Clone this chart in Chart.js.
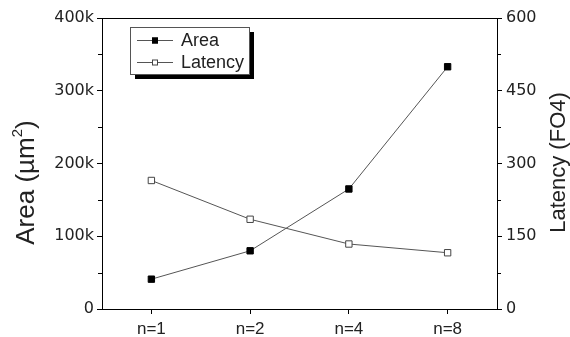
<!DOCTYPE html>
<html>
<head>
<meta charset="utf-8">
<script src="https://cdn.jsdelivr.net/npm/chart.js@4.4.1/dist/chart.umd.min.js"></script>
<style>
  body { margin: 0; background: #fff; }
  #wrap { width: 570px; height: 337px; position: relative; }
</style>
</head>
<body>
<div id="wrap"><canvas id="chart"></canvas></div>
<script>
// data
const categories = ["n=1", "n=2", "n=4", "n=8"];
const areaValues = [41000, 80000, 165000, 333000];
const latencyValues = [265, 185, 134, 116];
const areaMinorTicks = [50000, 150000, 250000, 350000];
const latencyMinorTicks = [75, 225, 375, 525];

const FONT = "'Liberation Sans', Arial, sans-serif";
const WIDE = "'DejaVu Sans', sans-serif";
const INK = "#222";

// text running bottom-to-top, parts = [text, size, raise]
function drawVertical(ctx, parts, baseX, midY) {
  ctx.save();
  ctx.translate(baseX, midY);
  ctx.rotate(-Math.PI / 2);
  ctx.textBaseline = "alphabetic";
  ctx.textAlign = "left";
  let total = 0;
  parts.forEach(p => { ctx.font = p[1] + "px " + FONT; total += ctx.measureText(p[0]).width; });
  let x = -total / 2;
  parts.forEach(p => {
    ctx.font = p[1] + "px " + FONT;
    ctx.fillText(p[0], x, -p[2]);
    x += ctx.measureText(p[0]).width;
  });
  ctx.restore();
}

// frame top, minor ticks, axis titles, legend with shadow
const extras = {
  id: "extras",
  afterDraw(chart) {
    const ctx = chart.ctx;
    const a = chart.chartArea;
    const mid = (a.top + a.bottom) / 2;
    ctx.save();
    ctx.strokeStyle = "#000";
    ctx.lineWidth = 1;
    ctx.beginPath();
    ctx.moveTo(a.left, a.top + 0.5);
    ctx.lineTo(a.right, a.top + 0.5);
    ctx.stroke();

    // minor ticks
    ctx.beginPath();
    areaMinorTicks.forEach(v => {
      const y = Math.round(chart.scales.y.getPixelForValue(v)) + 0.5;
      ctx.moveTo(a.left, y); ctx.lineTo(a.left - 4, y);
    });
    latencyMinorTicks.forEach(v => {
      const y = Math.round(chart.scales.y1.getPixelForValue(v)) + 0.5;
      ctx.moveTo(a.right, y); ctx.lineTo(a.right + 4, y);
    });
    ctx.stroke();

    // axis titles
    ctx.fillStyle = INK;
    drawVertical(ctx, [["Area (\u00b5m", 26, 0], ["2", 15, 12], [")", 26, 0]], 34, mid + 19);
    drawVertical(ctx, [["Latency (FO4)", 22, 0]], 565, mid - 1);

    // legend
    const bx = 130, by = 27, bw = 119, bh = 47;
    ctx.fillStyle = "#000";
    ctx.fillRect(bx + 5, by + 5, bw, bh);
    ctx.fillStyle = "#fff";
    ctx.fillRect(bx, by, bw, bh);
    ctx.strokeStyle = "#555";
    ctx.strokeRect(bx + 0.5, by + 0.5, bw, bh);

    ctx.font = "18px " + FONT;
    ctx.textBaseline = "middle";
    chart.data.datasets.forEach((ds, i) => {
      const y = by + 13 + i * 22;
      ctx.strokeStyle = ds.borderColor;
      ctx.beginPath();
      ctx.moveTo(bx + 7, y + 0.5);
      ctx.lineTo(bx + 43, y + 0.5);
      ctx.stroke();
      ctx.fillStyle = ds.pointBackgroundColor;
      ctx.strokeStyle = ds.pointBorderColor;
      ctx.fillRect(bx + 22, y - 2.5, 6, 6);
      ctx.strokeRect(bx + 22.5, y - 2, 5, 5);
      ctx.fillStyle = INK;
      ctx.fillText(ds.label, bx + 51, y + 1);
    });
    ctx.restore();
  }
};

new Chart(document.getElementById("chart"), {
  type: "line",
  data: {
    labels: categories,
    datasets: [
      {
        label: "Area", data: areaValues, yAxisID: "y",
        borderColor: "#555", borderWidth: 1,
        pointStyle: "rect", pointRadius: 4.5,
        pointBackgroundColor: "#000", pointBorderColor: "#000", pointBorderWidth: 1
      },
      {
        label: "Latency", data: latencyValues, yAxisID: "y1",
        borderColor: "#555", borderWidth: 1,
        pointStyle: "rect", pointRadius: 4.5,
        pointBackgroundColor: "#fff", pointBorderColor: "#444", pointBorderWidth: 1
      }
    ]
  },
  options: {
    responsive: true, maintainAspectRatio: false, animation: false,
    layout: { padding: { top: 18, left: 0, right: 0, bottom: 0 } },
    plugins: { legend: { display: false }, tooltip: { enabled: false } },
    scales: {
      x: {
        offset: true,
        grid: { drawOnChartArea: false, tickLength: 5, color: "#000" },
        border: { color: "#000" },
        ticks: { color: INK, font: { family: FONT, size: 17 }, padding: 5 },
        afterFit: s => { s.height = 28; }
      },
      y: {
        position: "left", min: 0, max: 400000,
        grid: { drawOnChartArea: false, tickLength: 5, color: "#000" },
        border: { color: "#000" },
        ticks: {
          stepSize: 100000, color: INK, font: { family: WIDE, size: 16 }, padding: 3,
          callback: v => v === 0 ? "0" : (v / 1000) + "k"
        },
        afterFit: s => { s.width = 102; }
      },
      y1: {
        position: "right", min: 0, max: 600,
        grid: { drawOnChartArea: false, tickLength: 5, color: "#000" },
        border: { color: "#000" },
        ticks: { stepSize: 150, color: INK, font: { family: WIDE, size: 16 }, padding: 4 },
        afterFit: s => { s.width = 73; }
      }
    }
  },
  plugins: [extras]
});
</script>
</body>
</html>
